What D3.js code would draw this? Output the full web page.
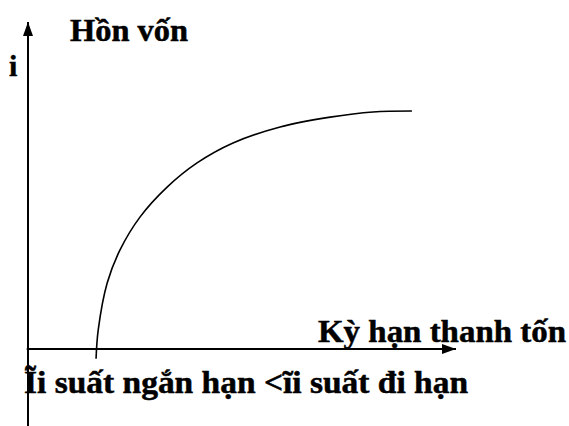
<!DOCTYPE html>
<html>
<head>
<meta charset="utf-8">
<script src="https://cdn.jsdelivr.net/npm/d3@7"></script>
<style>
  html, body { margin: 0; padding: 0; background: #fff; }
  svg { display: block; }
  text { font-family: "Liberation Serif", "Times New Roman", serif; font-weight: bold; fill: #000; stroke: #000; stroke-width: 0.5px; }
</style>
</head>
<body>
<svg id="chart" width="569" height="426"></svg>
<script>
// Yield curve: term (x) against yield (y), in abstract units
const terms  = [1.59, 1.64, 1.85, 2.15, 2.62, 3.25, 3.95, 4.79, 5.89, 7.06, 8.06, 8.97];
const yields = [-0.3, 0.58, 2.02, 3.03, 4.04, 4.95, 5.69, 6.30, 6.79, 7.09, 7.25, 7.28];

const titleText = "Hồn vốn";
const yAxisLabel = "i";
const xAxisLabel = "Kỳ hạn thanh tốn";
const noteText = "Ĩi suất ngắn hạn <ĩi suất đi hạn";

const svg = d3.select("#chart");

const x = d3.scaleLinear().domain([0, 10]).range([28, 456]);
const y = d3.scaleLinear().domain([0, 10]).range([349, 22]);

// Arrowhead marker
svg.append("defs").append("marker")
  .attr("id", "arrow")
  .attr("viewBox", "0 0 14 10")
  .attr("refX", 14).attr("refY", 5)
  .attr("markerWidth", 14).attr("markerHeight", 10)
  .attr("markerUnits", "userSpaceOnUse")
  .attr("orient", "auto")
  .append("path")
  .attr("d", "M0,0 L14,5 L0,10 Z")
  .attr("fill", "#000");

// Vertical axis (runs below the horizontal axis to the bottom edge)
svg.append("line")
  .attr("x1", x(0)).attr("x2", x(0))
  .attr("y1", y(-2.37)).attr("y2", y(10))
  .attr("stroke", "#000").attr("stroke-width", 2)
  .attr("marker-end", "url(#arrow)");

// Horizontal axis
svg.append("line")
  .attr("x1", x(-0.03)).attr("x2", x(10))
  .attr("y1", y(0)).attr("y2", y(0))
  .attr("stroke", "#000").attr("stroke-width", 2)
  .attr("marker-end", "url(#arrow)");

// Curve
const pts = terms.map((t, i) => [t, yields[i]]);
const line = d3.line()
  .x(d => x(d[0]))
  .y(d => y(d[1]))
  .curve(d3.curveCatmullRom.alpha(0.5));

svg.append("path")
  .datum(pts)
  .attr("d", line)
  .attr("fill", "none")
  .attr("stroke", "#000")
  .attr("stroke-width", 1.6);

// Labels
svg.append("text")
  .attr("x", 70).attr("y", 41)
  .attr("font-size", 31)
  .attr("textLength", 118).attr("lengthAdjust", "spacingAndGlyphs")
  .text(titleText);

svg.append("text")
  .attr("x", 9).attr("y", 76)
  .attr("font-size", 30)
  .text(yAxisLabel);

svg.append("text")
  .attr("x", 318).attr("y", 342)
  .attr("font-size", 32)
  .attr("textLength", 248).attr("lengthAdjust", "spacingAndGlyphs")
  .text(xAxisLabel);

svg.append("text")
  .attr("x", 24).attr("y", 393)
  .attr("font-size", 32)
  .attr("textLength", 444).attr("lengthAdjust", "spacingAndGlyphs")
  .text(noteText);
</script>
</body>
</html>
